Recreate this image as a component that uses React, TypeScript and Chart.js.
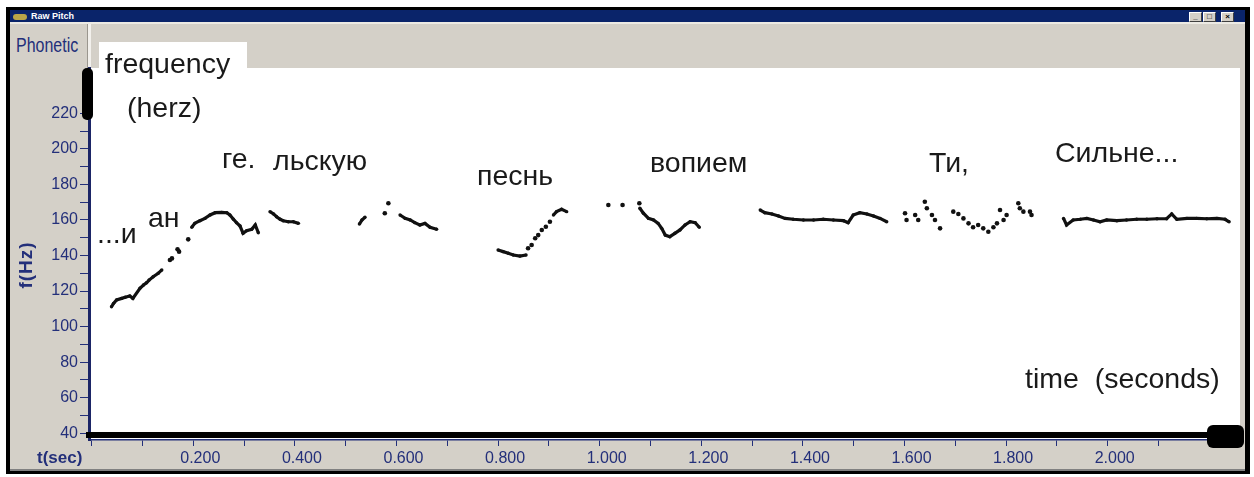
import React, { useEffect, useRef } from 'react';
import { Chart, registerables } from 'chart.js';

Chart.register(...registerables);

// ---- axis ticks ----
const X_TICKS = [0, 0.1, 0.2, 0.3, 0.4, 0.5, 0.6, 0.7, 0.8, 0.9, 1.0, 1.1, 1.2, 1.3, 1.4, 1.5, 1.6, 1.7, 1.8, 1.9, 2.0, 2.1, 2.2];
const X_TICK_LABELS = ['', '', '0.200', '', '0.400', '', '0.600', '', '0.800', '', '1.000', '', '1.200', '', '1.400', '', '1.600', '', '1.800', '', '2.000', '', ''];
const Y_TICKS = [40, 50, 60, 70, 80, 90, 100, 110, 120, 130, 140, 150, 160, 170, 180, 190, 200, 210, 220];
const Y_TICK_LABELS = ['40', '', '60', '', '80', '', '100', '', '120', '', '140', '', '160', '', '180', '', '200', '', '220'];

// ---- pitch contour (seconds / Hz), null = break between voiced stretches ----
const CONTOUR_TIME = [
  0.039, 0.043, 0.049, 0.059, 0.066, 0.075, 0.081, 0.095, 0.102, 0.108, 0.113, 0.121, 0.131, 0.138, null,
  0.197, 0.203, 0.213, 0.223, 0.233, 0.243, 0.256, 0.266, 0.272, 0.279, 0.285, 0.292, 0.298, 0.305, 0.315, 0.322, 0.328, null,
  0.351, 0.358, 0.364, 0.371, 0.377, 0.387, 0.397, 0.407, null,
  0.527, 0.532, 0.538, null,
  0.607, 0.617, 0.627, 0.636, 0.646, 0.656, 0.666, 0.679, null,
  0.800, 0.810, 0.820, 0.830, 0.843, 0.855, null,
  0.909, 0.915, 0.925, 0.935, null,
  1.079, 1.086, 1.096, 1.106, 1.115, 1.122, 1.129, 1.138, 1.148, 1.158, 1.168, 1.178, 1.188, 1.196, null,
  1.316, 1.325, 1.339, 1.352, 1.365, 1.381, 1.401, 1.421, 1.440, 1.460, 1.480, 1.489, 1.499, 1.512, 1.526, 1.539, 1.552, 1.565, null,
  1.913, 1.919, 1.932, 1.946, 1.959, 1.972, 1.985, 1.998, 2.018, 2.037, 2.057, 2.077, 2.097, 2.116, 2.126, 2.136, 2.156, 2.175, 2.195, 2.215, 2.231, 2.239,
];
const CONTOUR_HZ = [
  111.2, 113.1, 115.0, 115.9, 116.5, 117.2, 115.9, 121.6, 123.4, 124.7, 126.2, 128.1, 130.0, 131.9, null,
  155.9, 158.1, 159.6, 160.9, 162.8, 164.1, 164.3, 164.1, 162.8, 160.4, 158.5, 156.6, 152.5, 154.0, 154.8, 157.2, 152.8, null,
  164.7, 163.4, 161.8, 160.4, 159.6, 159.0, 159.0, 158.1, null,
  157.7, 160.0, 161.5, null,
  162.8, 160.9, 160.0, 158.5, 157.2, 158.1, 155.9, 154.8, null,
  143.1, 142.2, 141.3, 140.3, 139.7, 140.3, null,
  162.8, 164.7, 166.0, 164.7, null,
  166.6, 163.8, 160.9, 160.0, 158.1, 155.3, 151.5, 150.6, 152.5, 154.4, 157.2, 159.0, 158.5, 155.9, null,
  165.6, 164.1, 163.4, 162.2, 160.9, 160.4, 160.0, 160.0, 160.4, 160.0, 159.6, 158.5, 162.8, 164.1, 163.4, 162.2, 160.9, 159.0, null,
  160.9, 157.2, 160.0, 160.4, 160.9, 160.0, 159.0, 160.0, 159.6, 160.0, 160.4, 160.4, 160.7, 160.7, 163.4, 160.4, 160.9, 160.9, 160.7, 160.9, 160.4, 159.0,
];

// ---- isolated pitch dots ----
const DOT_TIME = [
  0.154, 0.158, 0.169, 0.172, 0.190,
  0.577, 0.584,
  0.859, 0.866, 0.873, 0.879, 0.886, 0.894, 0.902,
  1.017, 1.045, 1.078,
  1.601, 1.604, 1.621, 1.627, 1.640, 1.644, 1.654, 1.660, 1.670, 1.696, 1.706, 1.716, 1.726, 1.735, 1.745, 1.755, 1.765, 1.775, 1.782, 1.788, 1.795, 1.801, 1.824, 1.827, 1.834, 1.847, 1.850,
];
const DOT_HZ = [
  137.5, 138.4, 143.5, 142.2, 149.1,
  163.8, 169.4,
  144.1, 145.9, 149.7, 151.5, 154.4, 156.2, 159.0,
  168.4, 168.4, 169.4,
  163.8, 160.0, 162.8, 160.0, 170.3, 166.6, 162.8, 160.0, 155.3, 164.7, 163.4, 160.9, 158.1, 155.9, 157.2, 155.3, 153.4, 155.9, 158.1, 165.6, 160.0, 162.8, 169.4, 166.6, 164.7, 164.7, 162.8,
];

// ---- word annotations over the contour ----
const WORDS = ['...и', 'ан', 'ге.', 'льскую', 'песнь', 'вопием', 'Ти,', 'Сильне...'];

const NAVY = '#232f7a';
const SANS = "'Liberation Sans', Arial, sans-serif";

const X_MIN = -0.0053;
const X_MAX = 2.2604;
const Y_MIN = 36.23;
const Y_MAX = 245.5;

function Txt(props: { x: number; base: number; size: number; text: string; color?: string; weight?: string; sx?: number }) {
  const { x, base, size, text, color = '#1a1a1a', weight = 'normal', sx = 1 } = props;
  return (
    <div
      style={{
        position: 'absolute',
        left: x,
        top: base - 0.8465 * size,
        fontSize: size,
        lineHeight: `${size}px`,
        fontFamily: SANS,
        fontWeight: weight as any,
        color,
        whiteSpace: 'pre',
        transform: sx !== 1 ? `scaleX(${sx})` : undefined,
        transformOrigin: 'left center',
      }}
    >
      {text}
    </div>
  );
}

const abs = (s: React.CSSProperties): React.CSSProperties => ({ position: 'absolute', ...s });

export default function App() {
  const ref = useRef<HTMLCanvasElement>(null);

  useEffect(() => {
    const contour = CONTOUR_TIME.map((t, i) => ({ x: t as any, y: CONTOUR_HZ[i] as any }));
    const dots = DOT_TIME.map((t, i) => ({ x: t, y: DOT_HZ[i] }));

    const whitePlot = {
      id: 'whitePlot',
      beforeDraw(chart: any) {
        const { ctx, chartArea } = chart;
        ctx.save();
        ctx.fillStyle = '#ffffff';
        ctx.fillRect(chartArea.left, chartArea.top, chartArea.right - chartArea.left, chartArea.bottom - chartArea.top);
        ctx.restore();
      },
    };

    const chart = new Chart(ref.current as HTMLCanvasElement, {
      type: 'scatter',
      data: {
        datasets: [
          {
            data: contour,
            showLine: true,
            spanGaps: false,
            borderColor: '#111111',
            borderWidth: 3.2,
            tension: 0,
            pointRadius: 1.7,
            pointBackgroundColor: '#111111',
            pointBorderWidth: 0,
          } as any,
          {
            data: dots,
            showLine: false,
            pointRadius: 2.3,
            pointBackgroundColor: '#111111',
            pointBorderWidth: 0,
          } as any,
        ],
      },
      options: {
        animation: false,
        responsive: false,
        maintainAspectRatio: false,
        layout: { padding: { left: 0, top: 68, right: 14, bottom: 0 } },
        plugins: { legend: { display: false }, tooltip: { enabled: false } },
        scales: {
          x: {
            type: 'linear',
            min: X_MIN,
            max: X_MAX,
            afterFit: (s: any) => {
              s.height = 37;
            },
            afterBuildTicks: (s: any) => {
              s.ticks = X_TICKS.map((v) => ({ value: v }));
            },
            grid: { drawOnChartArea: false, drawTicks: true, tickLength: 6, color: NAVY, lineWidth: 1 },
            border: { color: NAVY, width: 1.5 },
            ticks: {
              callback: (_v: any, i: number) => X_TICK_LABELS[i],
              color: NAVY,
              font: { family: SANS, size: 16 },
              padding: 3,
              labelOffset: 7,
              maxRotation: 0,
              autoSkip: false,
            },
          },
          y: {
            type: 'linear',
            min: Y_MIN,
            max: Y_MAX,
            afterFit: (s: any) => {
              s.width = 89;
            },
            afterBuildTicks: (s: any) => {
              s.ticks = Y_TICKS.map((v) => ({ value: v }));
            },
            grid: { drawOnChartArea: false, drawTicks: true, tickLength: 9, color: NAVY, lineWidth: 1 },
            border: { color: '#1b2566', width: 3 },
            ticks: {
              callback: (_v: any, i: number) => Y_TICK_LABELS[i],
              color: NAVY,
              font: { family: SANS, size: 16 },
              padding: 2,
              autoSkip: false,
            },
          },
        },
      },
      plugins: [whitePlot],
    });
    return () => chart.destroy();
  }, []);

  return (
    <div style={{ position: 'fixed', left: 0, top: 0, width: 1254, height: 477, background: '#ffffff', overflow: 'hidden' }}>
      {/* window frame */}
      <div style={abs({ left: 6, top: 7, width: 1244, height: 467, background: '#000000' })} />
      <div style={abs({ left: 10, top: 10, width: 1235, height: 461, background: '#d4d0c8' })} />
      <div style={abs({ left: 10, top: 469, width: 1235, height: 2, background: '#808080' })} />
      {/* title bar */}
      <div style={abs({ left: 10, top: 10, width: 1235, height: 12, background: '#0a246a' })} />
      <div style={abs({ left: 13, top: 14, width: 14, height: 6, borderRadius: 3, background: '#b9a548' })} />
      <Txt x={31} base={20} size={9} text="Raw Pitch" color="#ffffff" weight="bold" />
      {[1189, 1203, 1221].map((bx, i) => (
        <div
          key={bx}
          style={abs({
            left: bx,
            top: 12,
            width: 13,
            height: 10,
            background: '#d4d0c8',
            borderTop: '1px solid #ffffff',
            borderLeft: '1px solid #ffffff',
            borderRight: '1px solid #404040',
            borderBottom: '1px solid #404040',
            boxSizing: 'border-box',
            fontFamily: SANS,
            fontSize: 8,
            lineHeight: '8px',
            fontWeight: 'bold',
            color: '#000',
            textAlign: 'center',
          })}
        >
          {i === 0 ? '_' : i === 1 ? '□' : '×'}
        </div>
      ))}
      <div style={abs({ left: 10, top: 22, width: 1235, height: 2, background: '#eceae4' })} />
      {/* left panel label */}
      <Txt x={16} base={52} size={20} text="Phonetic" color={NAVY} sx={0.8} />
      {/* splitter */}
      <div style={abs({ left: 87, top: 24, width: 1, height: 44, background: '#9a968e' })} />
      <div style={abs({ left: 88, top: 24, width: 3, height: 44, background: '#f2f0ec' })} />
      {/* white title box */}
      <div style={abs({ left: 99, top: 42, width: 148, height: 27, background: '#ffffff' })} />

      <canvas ref={ref} width={1254} height={477} style={abs({ left: 0, top: 0, width: 1254, height: 477 })} />

      {/* decorations over the plot */}
      <div style={abs({ left: 82, top: 68, width: 11, height: 52, borderRadius: 5, background: '#000000' })} />
      <div style={abs({ left: 86, top: 432, width: 1154, height: 6, background: '#000000' })} />
      <div style={abs({ left: 1207, top: 425, width: 37, height: 23, borderRadius: 6, background: '#000000' })} />

      {/* axis titles */}
      <div
        style={abs({
          left: 25,
          top: 265,
          transform: 'translate(-50%, -50%) rotate(-90deg)',
          fontFamily: SANS,
          fontWeight: 'bold',
          fontSize: 19,
          lineHeight: '19px',
          letterSpacing: 1,
          color: NAVY,
          whiteSpace: 'pre',
        })}
      >
        f(Hz)
      </div>
      <Txt x={37} base={463} size={17} text="t(sec)" color={NAVY} weight="bold" />

      {/* annotations */}
      <Txt x={105} base={73} size={28.5} text="frequency" />
      <Txt x={127} base={117} size={28.5} text="(herz)" />
      <Txt x={97} base={243} size={28.5} text={WORDS[0]} />
      <Txt x={148} base={227} size={28.5} text={WORDS[1]} />
      <Txt x={222} base={168} size={28.5} text={WORDS[2]} />
      <Txt x={273} base={170} size={28.5} text={WORDS[3]} />
      <Txt x={477} base={185} size={28.5} text={WORDS[4]} />
      <Txt x={650} base={172} size={28.5} text={WORDS[5]} />
      <Txt x={929} base={172} size={28.5} text={WORDS[6]} />
      <Txt x={1055} base={162} size={28.5} text={WORDS[7]} />
      <Txt x={1025} base={388} size={28.5} text="time  (seconds)" />
    </div>
  );
}
